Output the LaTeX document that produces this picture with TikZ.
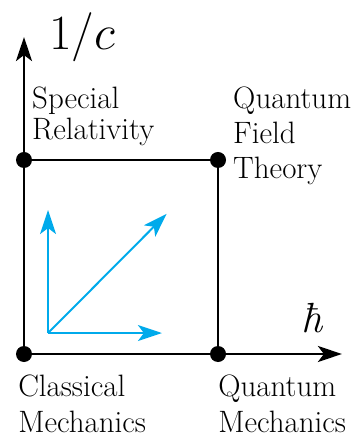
\documentclass[tikz,border=0pt]{standalone}
\usepackage{fix-cm}
\usepackage{amsmath}
\usepackage{fontspec}
\usetikzlibrary{calc}
\usetikzlibrary{arrows.meta}

\definecolor{vecblue}{RGB}{0,170,235}

\begin{document}
\begin{tikzpicture}[scale=4.85,
    dot/.style={circle, fill=black, inner sep=0pt, minimum size=0.4cm},
    axis/.style={black, line width=1.9pt, -{Stealth[length=0.6cm, width=0.4cm, inset=0.15cm]}},
    side/.style={black, line width=1.9pt},
    vec/.style={vecblue, line width=1.4pt, -{Stealth[length=0.6cm, width=0.4cm, inset=0.15cm]}},
    lbl/.style={inner sep=0pt, align=left, anchor=north west, font=\fontsize{22}{#1}\selectfont}]
    \useasboundingbox (-0.1237, -0.4278) rectangle (1.7113, 1.8247);

    \coordinate (htip) at (1.639, 0);
    \coordinate (ctip) at (0, 1.634);
    \coordinate (V) at (0.124, 0.108);
    \coordinate (Vup) at (0.124, 0.742);
    \coordinate (Vright) at (0.711, 0.108);
    \coordinate (Vdiag) at (0.735, 0.722);

    \draw[axis] (0, 0) -- (ctip);
    \draw[axis] (0, 0) -- (htip);

    \node[dot] (CM) at (0, 0) {};
    \node[dot] (QM) at (1, 0) {};
    \node[dot] (SR) at (0, 1) {};
    \node[dot] (QFT) at (1, 1) {};

    \draw[side] (SR.center) -- (QFT.center) -- (QM.center);

    \draw[vec] (V) -- (Vup);
    \draw[vec] (V) -- (Vright);
    \draw[vec] (V) -- (Vdiag);

    \node[anchor=base, inner sep=0pt, font=\fontsize{35}{40}\selectfont] (cinv) at (0.299, 1.567) {$1/c$};
    \node[anchor=base, inner sep=0pt, font=\fontsize{30}{34}\selectfont] (hbar) at (1.485, 0.113) {\textit{ħ}};

    \node[lbl=22.5pt] (srl) at (0.041, 1.38) {Special\\Relativity};
    \node[lbl=25pt] (qftl) at (1.077, 1.38) {Quantum\\Field\\Theory};
    \node[lbl=26pt] (cml) at (-0.031, -0.104) {Classical\\Mechanics};
    \node[lbl=26pt] (qml) at (1.0, -0.104) {Quantum\\Mechanics};
\end{tikzpicture}
\end{document}
